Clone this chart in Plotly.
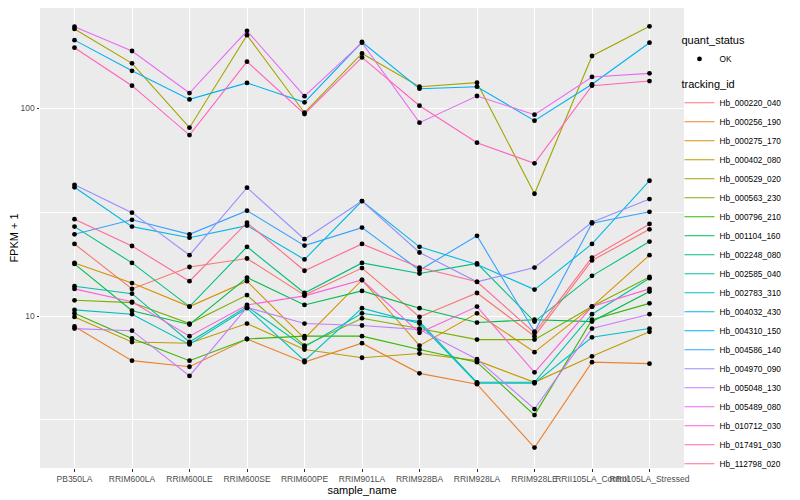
import plotly.graph_objects as go

samples = ["PB350LA", "RRIM600LA", "RRIM600LE", "RRIM600SE", "RRIM600PE", "RRIM901LA",
           "RRIM928BA", "RRIM928LA", "RRIM928LE", "RRII105LA_Control", "RRII105LA_Stressed"]

# FPKM + 1 values per tracking_id
hb_000220_040 = [22.2, 13.5, 17.2, 18.9, 12.6, 17.0, 9.9, 12.9, 8.0, 18.5, 26.1]
hb_000256_190 = [8.9, 6.1, 5.7, 7.75, 6.0, 7.4, 5.3, 4.7, 2.33, 6.0, 5.9]
hb_000275_170 = [18.0, 14.4, 11.1, 14.7, 7.8, 14.9, 7.2, 10.3, 6.7, 11.1, 19.6]
hb_000402_080 = [9.9, 7.5, 7.4, 9.2, 6.9, 6.3, 6.6, 6.1, 4.8, 6.4, 8.4]
hb_000529_020 = [240, 164, 80.4, 224, 94.9, 183, 126.6, 132.4, 38.7, 177.8, 247]
hb_000563_230 = [11.9, 11.6, 9.2, 12.6, 7.2, 9.75, 8.7, 7.7, 7.7, 11.1, 15.4]
hb_000796_210 = [10.3, 7.8, 6.1, 7.75, 8.0, 8.0, 6.9, 6.0, 3.34, 9.6, 11.5]
hb_001104_160 = [17.8, 10.6, 9.1, 15.3, 11.3, 13.2, 10.9, 9.3, 9.6, 9.4, 13.1]
hb_002248_080 = [26.9, 18.0, 11.1, 21.5, 12.9, 18.0, 16.0, 17.9, 9.4, 15.6, 22.8]
hb_002585_040 = [13.9, 12.8, 7.5, 11.1, 7.1, 10.3, 9.4, 4.8, 4.8, 10.2, 15.2]
hb_002783_310 = [10.7, 10.2, 7.3, 10.9, 6.1, 10.9, 9.2, 4.75, 4.75, 7.9, 8.7]
hb_004032_430 = [41.6, 26.9, 23.8, 27.2, 18.7, 35.7, 21.5, 17.7, 13.4, 22.2, 44.7]
hb_004310_150 = [212, 151, 110, 132, 106.5, 207.6, 123.8, 126.6, 86.9, 130, 206]
hb_004586_140 = [24.7, 29.0, 24.7, 32.1, 21.8, 26.6, 16.6, 24.3, 8.4, 27.9, 31.7]
hb_004970_090 = [42.7, 31.4, 19.6, 41.4, 23.4, 35.7, 20.2, 14.6, 17.1, 28.2, 36.5]
hb_005048_130 = [8.7, 8.5, 5.15, 11.0, 9.2, 9.0, 8.6, 6.2, 3.57, 8.7, 10.2]
hb_005489_080 = [246, 188, 118, 235, 114, 206, 85.0, 114.2, 92.9, 141, 146.8]
hb_010712_030 = [13.5, 11.7, 8.0, 11.3, 12.5, 14.9, 8.3, 11.1, 5.36, 11.1, 13.5]
hb_017491_030 = [195, 128, 74.1, 167, 93.6, 175, 102.6, 68.1, 54.2, 128, 134.8]
hb_112798_020 = [29.2, 21.7, 14.7, 28.1, 16.5, 22.2, 17.1, 14.6, 8.3, 19.1, 27.7]

tracking_ids = ["Hb_000220_040", "Hb_000256_190", "Hb_000275_170", "Hb_000402_080",
                "Hb_000529_020", "Hb_000563_230", "Hb_000796_210", "Hb_001104_160",
                "Hb_002248_080", "Hb_002585_040", "Hb_002783_310", "Hb_004032_430",
                "Hb_004310_150", "Hb_004586_140", "Hb_004970_090", "Hb_005048_130",
                "Hb_005489_080", "Hb_010712_030", "Hb_017491_030", "Hb_112798_020"]

series = [hb_000220_040, hb_000256_190, hb_000275_170, hb_000402_080, hb_000529_020,
          hb_000563_230, hb_000796_210, hb_001104_160, hb_002248_080, hb_002585_040,
          hb_002783_310, hb_004032_430, hb_004310_150, hb_004586_140, hb_004970_090,
          hb_005048_130, hb_005489_080, hb_010712_030, hb_017491_030, hb_112798_020]

colors = ["#F8766D", "#EA8331", "#D89000", "#C09B00", "#A3A500", "#7CAE00", "#39B600",
          "#00BB4E", "#00BF7D", "#00C1A3", "#00BFC4", "#00BAE0", "#00B0F6", "#35A2FF",
          "#9590FF", "#C77CFF", "#E76BF3", "#FA62DB", "#FF62BC", "#FF6C91"]

quant_status = ["OK"]

fig = go.Figure()

for tid, vals, col in zip(tracking_ids, series, colors):
    fig.add_trace(go.Scatter(x=samples, y=vals, mode="lines", name=tid,
                             line=dict(color=col, width=1.1), legend="legend2"))

all_x = [s for _ in series for s in samples]
all_y = [v for vals in series for v in vals]
fig.add_trace(go.Scatter(x=all_x, y=all_y, mode="markers", name=quant_status[0],
                         marker=dict(color="black", size=4.8), legend="legend"))

font = "Liberation Sans, Arial, sans-serif"

fig.update_layout(
    width=800, height=500,
    margin=dict(l=32, r=124, t=0, b=40, autoexpand=False),
    paper_bgcolor="white", plot_bgcolor="#EBEBEB",
    font=dict(family=font, size=9, color="black"),
    xaxis=dict(type="category", range=[-0.6, 10.6], showgrid=True, gridcolor="white",
               gridwidth=1.1, zeroline=False, ticks="outside", ticklen=2.5,
               tickcolor="#333333", tickwidth=1, tickangle=0, automargin=True,
               tickfont=dict(size=8.5, color="#4D4D4D", family=font),
               title=dict(text="sample_name", font=dict(size=11, color="black"), standoff=0)),
    yaxis=dict(type="log", range=[0.2692, 2.4808], tickvals=[10, 100], ticktext=["10", "100"],
               showgrid=True, gridcolor="white", gridwidth=1.1, zeroline=False,
               ticks="outside", ticklen=2.5, tickcolor="#333333", tickwidth=1, automargin=True,
               tickfont=dict(size=8.5, color="#4D4D4D", family=font),
               minor=dict(tickvals=[10 ** 0.5, 10 ** 1.5, 10 ** 2.5], showgrid=True,
                          gridcolor="white", gridwidth=0.5, ticklen=0),
               title=dict(text="FPKM + 1", font=dict(size=11, color="black"), standoff=3)),
    legend=dict(title=dict(text="quant_status", font=dict(size=11)), x=0.993, xanchor="left",
                y=0.952, yanchor="top", font=dict(size=8.3), bgcolor="rgba(0,0,0,0)",
                itemsizing="trace", itemwidth=30),
    legend2=dict(title=dict(text="tracking_id", font=dict(size=11)), x=0.993, xanchor="left",
                 yref="container", y=0.868, yanchor="top", maxheight=480,
                 font=dict(size=8.3), bgcolor="rgba(0,0,0,0)", itemwidth=30),
    showlegend=True,
)

fig.write_html("out.html")
